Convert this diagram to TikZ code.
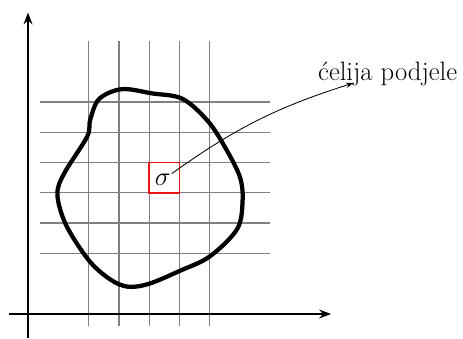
\documentclass[tikz,border=0pt]{standalone}
\usepackage{tikz}
\usetikzlibrary{arrows.meta}
\definecolor{gridgrey}{RGB}{128,128,128}
\definecolor{cellred}{RGB}{235,20,20}

\begin{document}
\begin{tikzpicture}[>=Stealth,
    gridline/.style={gridgrey,line width=1.2pt},
    axis/.style={->,line width=1.8pt},
    txt/.style={font=\fontsize{25}{30}\selectfont,inner sep=0pt}]
  \useasboundingbox (-0.924,-0.792) rectangle (14.356,10.363);
  % grid
  \foreach \xx in {2,...,6}
    \draw[gridline] (\xx,-0.4) -- (\xx,9);
  \foreach \yy in {2,...,7}
    \draw[gridline] (0.4,\yy) -- (8,\yy);
  % axes
  \draw[axis] (-0.63,0) -- (10,0);
  \draw[axis] (0,-0.8) -- (0,9.95);
  % region
  \draw[line width=4pt,line join=round]
    plot[smooth cycle,tension=0.55] coordinates {
      (2.05,6.4) (2.35,7.1) (3.1,7.42) (4.1,7.28) (5.1,7.1) (5.95,6.35)
      (6.55,5.42) (7.0,4.5) (7.08,3.7) (6.9,2.8) (6.0,1.9) (5.0,1.42)
      (4.0,1.0) (3.3,0.9) (2.7,1.15) (2.0,1.78) (1.25,2.95) (0.97,3.95)
      (1.2,4.65) (1.95,5.85)};
  % cell
  \draw[cellred,line width=1.8pt] (4,4) rectangle (5,5);
  \node[txt] (sig) at (4.45,4.42) {$\sigma$};
  % label
  \node[txt,anchor=base west] (lbl) at (9.57,7.72) {ćelija podjele};
  \coordinate (tip) at (10.73,7.62);
  \draw[->,line width=0.8pt,shorten <=1pt] (sig) to[bend left=9] (tip);
\end{tikzpicture}
\end{document}
